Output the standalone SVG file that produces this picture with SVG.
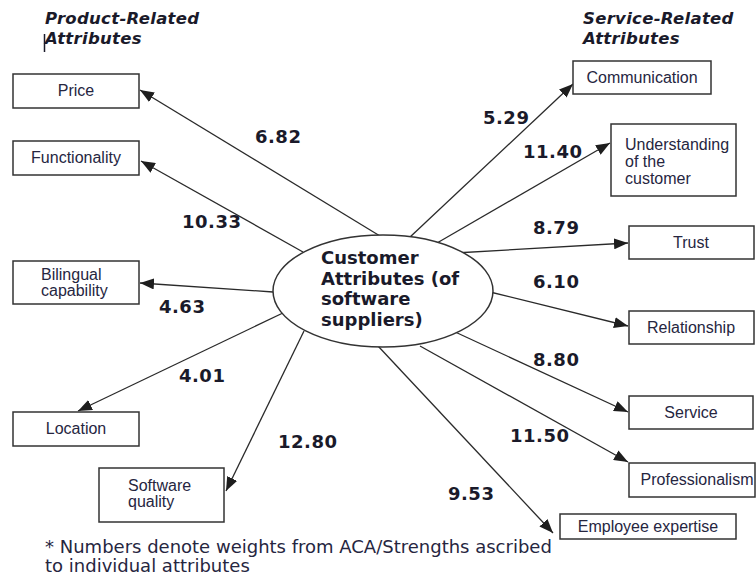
<svg xmlns="http://www.w3.org/2000/svg" width="756" height="580" viewBox="0 0 756 580">
  <defs>
    <marker id="arrow" markerUnits="userSpaceOnUse" markerWidth="14" markerHeight="11" refX="14" refY="5.5" orient="auto">
      <path d="M0,0 L14,5.5 L0,11 z" fill="#1e1e1e"/>
    </marker>
    <style>
      .box { fill: #ffffff; stroke: #333333; stroke-width: 1.5; }
      .lbl { font-family: "Liberation Sans", Arial, sans-serif; font-size: 16px; fill: #26263f; }
      .mid { text-anchor: middle; }
      .num { font-family: "DejaVu Sans", sans-serif; font-size: 18px; font-weight: bold; fill: #1a1a2a; letter-spacing: 0.5px; }
      .head { font-family: "DejaVu Sans", sans-serif; font-size: 16.5px; font-weight: bold; font-style: italic; fill: #1a1a2a; letter-spacing: 0.3px; }
      .hub { font-family: "DejaVu Sans", sans-serif; font-size: 18px; font-weight: bold; fill: #1a1a2a; }
      .note { font-family: "DejaVu Sans", sans-serif; font-size: 18px; fill: #26263f; }
      .edge { fill: none; stroke: #2a2a2a; stroke-width: 1.3; marker-end: url(#arrow); }
    </style>
  </defs>

  <rect width="756" height="580" fill="#ffffff"/>

  <!-- column headings -->
  <g id="headings">
    <text class="head" x="45" y="24">Product-Related</text>
    <text class="head" x="45" y="44">Attributes</text>
    <line x1="44.5" y1="34" x2="44.5" y2="52" stroke="#1a1a2a" stroke-width="1.5"/>
    <text class="head" x="583" y="24">Service-Related</text>
    <text class="head" x="583" y="44">Attributes</text>
  </g>

  <!-- connectors from the central ellipse to each attribute -->
  <g id="connectors">
    <line class="edge" x1="380" y1="236" x2="140" y2="90"/>
    <line class="edge" x1="303" y1="252" x2="141" y2="161"/>
    <line class="edge" x1="273" y1="292" x2="140" y2="283"/>
    <line class="edge" x1="285" y1="312" x2="78" y2="411"/>
    <line class="edge" x1="304" y1="331" x2="226" y2="491"/>
    <line class="edge" x1="378" y1="346" x2="553" y2="533"/>
    <line class="edge" x1="420" y1="346" x2="628" y2="462"/>
    <line class="edge" x1="453" y1="331" x2="628" y2="412"/>
    <line class="edge" x1="490" y1="292" x2="628" y2="326"/>
    <line class="edge" x1="455" y1="253" x2="628" y2="243"/>
    <line class="edge" x1="437" y1="243" x2="610" y2="143"/>
    <line class="edge" x1="409" y1="238" x2="573" y2="84"/>
  </g>

  <!-- weights -->
  <g id="weights">
    <text class="num" x="255" y="143">6.82</text>
    <text class="num" x="182" y="228">10.33</text>
    <text class="num" x="159" y="313">4.63</text>
    <text class="num" x="179" y="382">4.01</text>
    <text class="num" x="278" y="448">12.80</text>
    <text class="num" x="448" y="500">9.53</text>
    <text class="num" x="510" y="442">11.50</text>
    <text class="num" x="533" y="366">8.80</text>
    <text class="num" x="533" y="288">6.10</text>
    <text class="num" x="533" y="234">8.79</text>
    <text class="num" x="523" y="158">11.40</text>
    <text class="num" x="483" y="124">5.29</text>
  </g>

  <!-- central node -->
  <g id="customer-attributes">
    <ellipse cx="383" cy="291" rx="110" ry="56" fill="#ffffff" stroke="#333333" stroke-width="1.5"/>
    <text class="hub" x="321" y="264">Customer</text>
    <text class="hub" x="321" y="284.5">Attributes (of</text>
    <text class="hub" x="321" y="305">software</text>
    <text class="hub" x="321" y="325.5">suppliers)</text>
  </g>

  <!-- product-related attributes -->
  <g id="price">
    <rect class="box" x="13" y="74" width="126" height="34"/>
    <text class="lbl mid" x="76" y="96">Price</text>
  </g>
  <g id="functionality">
    <rect class="box" x="13" y="141" width="126" height="34"/>
    <text class="lbl mid" x="76" y="163">Functionality</text>
  </g>
  <g id="bilingual-capability">
    <rect class="box" x="13" y="261" width="126" height="43"/>
    <text class="lbl" x="41" y="280">Bilingual</text>
    <text class="lbl" x="41" y="296">capability</text>
  </g>
  <g id="location">
    <rect class="box" x="13" y="412" width="126" height="34"/>
    <text class="lbl mid" x="76" y="434">Location</text>
  </g>
  <g id="software-quality">
    <rect class="box" x="99" y="468" width="125" height="54"/>
    <text class="lbl" x="128" y="491">Software</text>
    <text class="lbl" x="128" y="507">quality</text>
  </g>

  <!-- service-related attributes -->
  <g id="communication">
    <rect class="box" x="573" y="61" width="138" height="33"/>
    <text class="lbl mid" x="642" y="83">Communication</text>
  </g>
  <g id="understanding-of-the-customer">
    <rect class="box" x="611" y="124" width="125" height="72"/>
    <text class="lbl" x="625" y="150">Understanding</text>
    <text class="lbl" x="625" y="167">of the</text>
    <text class="lbl" x="625" y="184">customer</text>
  </g>
  <g id="trust">
    <rect class="box" x="629" y="226" width="125" height="33"/>
    <text class="lbl mid" x="691" y="248">Trust</text>
  </g>
  <g id="relationship">
    <rect class="box" x="629" y="311" width="125" height="33"/>
    <text class="lbl mid" x="691" y="333">Relationship</text>
  </g>
  <g id="service">
    <rect class="box" x="629" y="396" width="124" height="33"/>
    <text class="lbl mid" x="691" y="418">Service</text>
  </g>
  <g id="professionalism">
    <rect class="box" x="629" y="463" width="126" height="34"/>
    <text class="lbl mid" x="697" y="485">Professionalism</text>
  </g>
  <g id="employee-expertise">
    <rect class="box" x="560" y="514" width="176" height="25"/>
    <text class="lbl mid" x="648" y="532">Employee expertise</text>
  </g>

  <!-- footnote -->
  <g id="footnote">
    <text class="note" x="45" y="553">* Numbers denote weights from ACA/Strengths ascribed</text>
    <text class="note" x="45" y="572">to individual attributes</text>
  </g>
</svg>
